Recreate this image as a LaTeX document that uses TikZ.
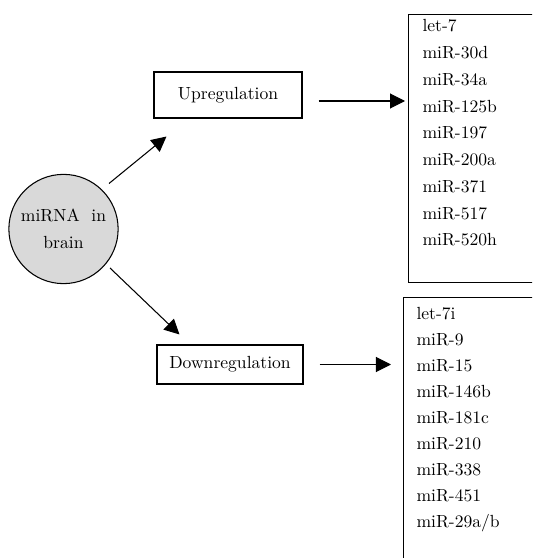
\documentclass[tikz,border=0pt]{standalone}
\usepackage{tikz}
\usetikzlibrary{positioning, arrows.meta}

\tikzset{
    bigarrow/.style={-{Triangle[length=0.3cm, width=0.3cm]}, line width=0.6pt},
    listtext/.style={anchor=north west, inner sep=0, align=left}
}

\begin{document}
\begin{tikzpicture}[line width=0.6pt]

\useasboundingbox (0, 0) rectangle (10.64, 11.16);
\clip (0, 0) rectangle (10.64, 11.16);

\node[circle, draw, fill=black!15, minimum size = 2.08cm, align=center, font=\linespread{1.27}\selectfont] (brain) at (1.27, 6.58) {miRNA\ \ in\\brain};

\node[rectangle,draw, minimum height = 0.92cm, minimum width = 2.96cm] (upreg) at (4.56, 9.26) {Upregulation};
\node[rectangle,draw, minimum height = 0.78cm, minimum width = 2.92cm] (downreg) at (4.6, 3.87) {Downregulation};

    \draw [bigarrow] ([xshift=0.13cm, yshift=0.13cm]brain.45) -- ([xshift=0.26cm, yshift=-0.36cm]upreg.south west);

    \draw [bigarrow] ([xshift=0.15cm]brain.-45) -- ([xshift=0.46cm, yshift=0.2cm]downreg.north west);


    \node [rectangle, draw, minimum height = 5.36cm, minimum width = 3cm, anchor = north west] (upbox) at (8.16, 10.88) {};

    \node [listtext, font=\linespread{1.27}\selectfont] (uplist) at ([xshift=0.28cm, yshift=-0.1cm]upbox.north west) {let-7\\miR-30d\\miR-34a\\miR-125b\\miR-197\\miR-200a\\miR-371\\miR-517\\miR-520h};

    \node [rectangle, draw, minimum height = 5.5cm, minimum width = 3cm, anchor = north west] (downbox) at (8.06, 5.22) {};

    \node [listtext, font=\linespread{1.23}\selectfont] (downlist) at ([xshift=0.26cm, yshift=-0.2cm]downbox.north west) {let-7i\\miR-9\\miR-15\\miR-146b\\miR-181c\\miR-210\\miR-338\\miR-451\\miR-29a/b};


    \draw [bigarrow] ([xshift=0.32cm, yshift=-0.12cm]upreg.east) -- ([xshift=-0.06cm, yshift=-0.12cm]upbox.west |- upreg.east);

    \draw [bigarrow] ([xshift=0.32cm]downreg.east) -- ([xshift=-0.24cm]downbox.west |- downreg.east);

    \end{tikzpicture}
\end{document}
